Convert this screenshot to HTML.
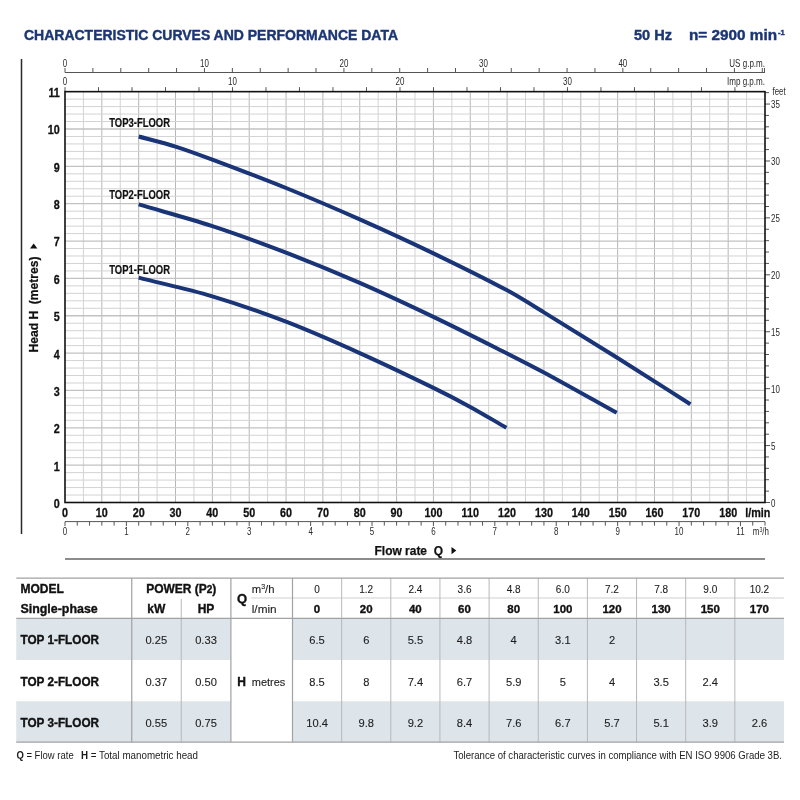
<!DOCTYPE html>
<html lang="en"><head><meta charset="utf-8"><title>Characteristic curves and performance data</title>
<style>
html,body{margin:0;padding:0;background:#fff}
body{width:800px;height:800px;overflow:hidden}
svg{display:block;will-change:transform}
text{font-family:"Liberation Sans",Arial,Helvetica,sans-serif;fill:#1a1a1a;white-space:pre}
.ttl{font-weight:bold;font-size:14px;fill:#1b3676;stroke:#1b3676;stroke-width:.4px}
.sm{font-size:10.6px;fill:#2a2a2a}
.bd{font-weight:bold;font-size:13px;fill:#111;stroke:#111;stroke-width:.3px}
.cl{font-weight:bold;font-size:12.2px;fill:#111;stroke:#111;stroke-width:.2px}
.ax{font-weight:bold;font-size:12.3px;fill:#111;stroke:#111;stroke-width:.25px}
.tb{font-weight:bold;font-size:12px;fill:#111;stroke:#111;stroke-width:.35px}
.tr{font-size:11.3px;fill:#1e1e1e;stroke:#1e1e1e;stroke-width:.12px}
.tn{font-size:11.6px;fill:#1e1e1e;stroke:#1e1e1e;stroke-width:.12px}
.tm{font-size:10.8px;fill:#1e1e1e;stroke:#1e1e1e;stroke-width:.1px}
.ft{font-size:10.3px;fill:#1c1c1c}
</style></head>
<body>
<svg width="800" height="800" viewBox="0 0 800 800">
<rect width="800" height="800" fill="#fff"/>
<text x="24" y="40" class="ttl" textLength="374" lengthAdjust="spacingAndGlyphs">CHARACTERISTIC CURVES AND PERFORMANCE DATA</text>
<text x="634" y="40" class="ttl" textLength="38" lengthAdjust="spacingAndGlyphs">50 Hz</text>
<text x="689" y="40" class="ttl" textLength="88" lengthAdjust="spacingAndGlyphs">n= 2900 min</text>
<text x="778" y="34.6" class="ttl" style="font-size:7.5px">-1</text>
<line x1="21.5" y1="59" x2="21.5" y2="534" stroke="#2a2a2a" stroke-width="1.5"/>
<path d="M83.42 91.65V502.5M120.26 91.65V502.5M157.11 91.65V502.5M193.95 91.65V502.5M230.79 91.65V502.5M267.63 91.65V502.5M304.47 91.65V502.5M341.32 91.65V502.5M378.16 91.65V502.5M415 91.65V502.5M451.84 91.65V502.5M488.68 91.65V502.5M525.53 91.65V502.5M562.37 91.65V502.5M599.21 91.65V502.5M636.05 91.65V502.5M672.89 91.65V502.5M709.74 91.65V502.5M746.58 91.65V502.5" stroke="#d3d3d3" stroke-width="1" fill="none"/>
<path d="M101.84 91.65V502.5M138.68 91.65V502.5M175.53 91.65V502.5M212.37 91.65V502.5M249.21 91.65V502.5M286.05 91.65V502.5M322.89 91.65V502.5M359.74 91.65V502.5M396.58 91.65V502.5M433.42 91.65V502.5M470.26 91.65V502.5M507.11 91.65V502.5M543.95 91.65V502.5M580.79 91.65V502.5M617.63 91.65V502.5M654.47 91.65V502.5M691.32 91.65V502.5M728.16 91.65V502.5" stroke="#b6b6b6" stroke-width="1" fill="none"/>
<path d="M65 495.03H765M65 487.56H765M65 480.09H765M65 472.62H765M65 457.68H765M65 450.21H765M65 442.74H765M65 435.27H765M65 420.33H765M65 412.86H765M65 405.39H765M65 397.92H765M65 382.98H765M65 375.51H765M65 368.04H765M65 360.57H765M65 345.63H765M65 338.16H765M65 330.69H765M65 323.22H765M65 308.28H765M65 300.81H765M65 293.34H765M65 285.87H765M65 270.93H765M65 263.46H765M65 255.99H765M65 248.52H765M65 233.58H765M65 226.11H765M65 218.64H765M65 211.17H765M65 196.23H765M65 188.76H765M65 181.29H765M65 173.82H765M65 158.88H765M65 151.41H765M65 143.94H765M65 136.47H765M65 121.53H765M65 114.06H765M65 106.59H765M65 99.12H765" stroke="#d3d3d3" stroke-width="1" fill="none"/>
<path d="M65 465.15H765M65 427.8H765M65 390.45H765M65 353.1H765M65 315.75H765M65 278.4H765M65 241.05H765M65 203.7H765M65 166.35H765M65 129H765" stroke="#c2c2c2" stroke-width="1.3" fill="none"/>
<path d="M65 72.5H765M65 72.5V68.0M92.89 72.5V68.0M120.79 72.5V68.0M148.68 72.5V68.0M176.57 72.5V68.0M204.46 72.5V68.0M232.36 72.5V68.0M260.25 72.5V68.0M288.14 72.5V68.0M316.03 72.5V68.0M343.93 72.5V68.0M371.82 72.5V68.0M399.71 72.5V68.0M427.6 72.5V68.0M455.5 72.5V68.0M483.39 72.5V68.0M511.28 72.5V68.0M539.17 72.5V68.0M567.07 72.5V68.0M594.96 72.5V68.0M622.85 72.5V68.0M650.74 72.5V68.0M678.64 72.5V68.0M706.53 72.5V68.0M734.42 72.5V68.0M762.31 72.5V68.0M764.5 72.5V68.0" stroke="#555" stroke-width="1" fill="none"/>
<text transform="translate(65,67) scale(.75,1)" class="sm" text-anchor="middle">0</text>
<text transform="translate(204.46,67) scale(.75,1)" class="sm" text-anchor="middle">10</text>
<text transform="translate(343.93,67) scale(.75,1)" class="sm" text-anchor="middle">20</text>
<text transform="translate(483.39,67) scale(.75,1)" class="sm" text-anchor="middle">30</text>
<text transform="translate(622.85,67) scale(.75,1)" class="sm" text-anchor="middle">40</text>
<text x="729.3" y="67" class="sm" textLength="35.7" lengthAdjust="spacingAndGlyphs">US g.p.m.</text>
<path d="M65 91.65V87.15M98.5 91.65V87.15M132 91.65V87.15M165.49 91.65V87.15M198.99 91.65V87.15M232.49 91.65V87.15M265.99 91.65V87.15M299.48 91.65V87.15M332.98 91.65V87.15M366.48 91.65V87.15M399.98 91.65V87.15M433.47 91.65V87.15M466.97 91.65V87.15M500.47 91.65V87.15M533.97 91.65V87.15M567.46 91.65V87.15M600.96 91.65V87.15M634.46 91.65V87.15M667.96 91.65V87.15M701.45 91.65V87.15M734.95 91.65V87.15" stroke="#555" stroke-width="1" fill="none"/>
<text transform="translate(65,84.7) scale(.75,1)" class="sm" text-anchor="middle">0</text>
<text transform="translate(232.49,84.7) scale(.75,1)" class="sm" text-anchor="middle">10</text>
<text transform="translate(399.98,84.7) scale(.75,1)" class="sm" text-anchor="middle">20</text>
<text transform="translate(567.46,84.7) scale(.75,1)" class="sm" text-anchor="middle">30</text>
<text x="727" y="84.7" class="sm" textLength="38" lengthAdjust="spacingAndGlyphs">Imp g.p.m.</text>
<path d="M765 502.5H770M765 491.12H769M765 479.73H769M765 468.35H769M765 456.96H769M765 445.58H770M765 434.19H769M765 422.81H769M765 411.43H769M765 400.04H769M765 388.66H770M765 377.27H769M765 365.89H769M765 354.5H769M765 343.12H769M765 331.74H770M765 320.35H769M765 308.97H769M765 297.58H769M765 286.2H769M765 274.81H770M765 263.43H769M765 252.05H769M765 240.66H769M765 229.28H769M765 217.89H770M765 206.51H769M765 195.12H769M765 183.74H769M765 172.36H769M765 160.97H770M765 149.59H769M765 138.2H769M765 126.82H769M765 115.43H769M765 104.05H770M765 92.67H769" stroke="#555" stroke-width="1" fill="none"/>
<text transform="translate(771,506.8) scale(.75,1)" class="sm">0</text>
<text transform="translate(771,449.88) scale(.75,1)" class="sm">5</text>
<text transform="translate(771,392.96) scale(.75,1)" class="sm">10</text>
<text transform="translate(771,336.04) scale(.75,1)" class="sm">15</text>
<text transform="translate(771,279.11) scale(.75,1)" class="sm">20</text>
<text transform="translate(771,222.19) scale(.75,1)" class="sm">25</text>
<text transform="translate(771,165.27) scale(.75,1)" class="sm">30</text>
<text transform="translate(771,108.35) scale(.75,1)" class="sm">35</text>
<text transform="translate(772.5,95) scale(.75,1)" class="sm">feet</text>
<path d="M65 521.6H765M65 521.6V526.1M77.28 521.6V525.6M89.56 521.6V525.6M101.84 521.6V525.6M114.12 521.6V525.6M126.4 521.6V526.1M138.68 521.6V525.6M150.96 521.6V525.6M163.25 521.6V525.6M175.53 521.6V525.6M187.81 521.6V526.1M200.09 521.6V525.6M212.37 521.6V525.6M224.65 521.6V525.6M236.93 521.6V525.6M249.21 521.6V526.1M261.49 521.6V525.6M273.77 521.6V525.6M286.05 521.6V525.6M298.33 521.6V525.6M310.61 521.6V526.1M322.89 521.6V525.6M335.18 521.6V525.6M347.46 521.6V525.6M359.74 521.6V525.6M372.02 521.6V526.1M384.3 521.6V525.6M396.58 521.6V525.6M408.86 521.6V525.6M421.14 521.6V525.6M433.42 521.6V526.1M445.7 521.6V525.6M457.98 521.6V525.6M470.26 521.6V525.6M482.54 521.6V525.6M494.82 521.6V526.1M507.11 521.6V525.6M519.39 521.6V525.6M531.67 521.6V525.6M543.95 521.6V525.6M556.23 521.6V526.1M568.51 521.6V525.6M580.79 521.6V525.6M593.07 521.6V525.6M605.35 521.6V525.6M617.63 521.6V526.1M629.91 521.6V525.6M642.19 521.6V525.6M654.47 521.6V525.6M666.75 521.6V525.6M679.04 521.6V526.1M691.32 521.6V525.6M703.6 521.6V525.6M715.88 521.6V525.6M728.16 521.6V525.6M740.44 521.6V526.1M752.72 521.6V525.6M765 521.6V525.6" stroke="#555" stroke-width="1" fill="none"/>
<text transform="translate(65,535.2) scale(.75,1)" class="sm" text-anchor="middle">0</text>
<text transform="translate(126.4,535.2) scale(.75,1)" class="sm" text-anchor="middle">1</text>
<text transform="translate(187.81,535.2) scale(.75,1)" class="sm" text-anchor="middle">2</text>
<text transform="translate(249.21,535.2) scale(.75,1)" class="sm" text-anchor="middle">3</text>
<text transform="translate(310.61,535.2) scale(.75,1)" class="sm" text-anchor="middle">4</text>
<text transform="translate(372.02,535.2) scale(.75,1)" class="sm" text-anchor="middle">5</text>
<text transform="translate(433.42,535.2) scale(.75,1)" class="sm" text-anchor="middle">6</text>
<text transform="translate(494.82,535.2) scale(.75,1)" class="sm" text-anchor="middle">7</text>
<text transform="translate(556.23,535.2) scale(.75,1)" class="sm" text-anchor="middle">8</text>
<text transform="translate(617.63,535.2) scale(.75,1)" class="sm" text-anchor="middle">9</text>
<text transform="translate(679.04,535.2) scale(.75,1)" class="sm" text-anchor="middle">10</text>
<text transform="translate(740.44,535.2) scale(.75,1)" class="sm" text-anchor="middle">11</text>
<text transform="translate(769,535.2) scale(.75,1)" class="sm" text-anchor="end">m<tspan dy="-3.2" style="font-size:7px">3</tspan><tspan dy="3.2">/h</tspan></text>
<rect x="65" y="91.65" width="700" height="410.85" fill="none" stroke="#111" stroke-width="1.6"/>
<text transform="translate(59.8,507.9) scale(.83,1)" class="bd" text-anchor="end">0</text>
<text transform="translate(59.8,470.55) scale(.83,1)" class="bd" text-anchor="end">1</text>
<text transform="translate(59.8,433.2) scale(.83,1)" class="bd" text-anchor="end">2</text>
<text transform="translate(59.8,395.85) scale(.83,1)" class="bd" text-anchor="end">3</text>
<text transform="translate(59.8,358.5) scale(.83,1)" class="bd" text-anchor="end">4</text>
<text transform="translate(59.8,321.15) scale(.83,1)" class="bd" text-anchor="end">5</text>
<text transform="translate(59.8,283.8) scale(.83,1)" class="bd" text-anchor="end">6</text>
<text transform="translate(59.8,246.45) scale(.83,1)" class="bd" text-anchor="end">7</text>
<text transform="translate(59.8,209.1) scale(.83,1)" class="bd" text-anchor="end">8</text>
<text transform="translate(59.8,171.75) scale(.83,1)" class="bd" text-anchor="end">9</text>
<text transform="translate(59.8,134.4) scale(.83,1)" class="bd" text-anchor="end">10</text>
<text transform="translate(59.8,97.05) scale(.83,1)" class="bd" text-anchor="end">11</text>
<text transform="translate(65,517) scale(.83,1)" class="bd" text-anchor="middle">0</text>
<text transform="translate(101.84,517) scale(.83,1)" class="bd" text-anchor="middle">10</text>
<text transform="translate(138.68,517) scale(.83,1)" class="bd" text-anchor="middle">20</text>
<text transform="translate(175.53,517) scale(.83,1)" class="bd" text-anchor="middle">30</text>
<text transform="translate(212.37,517) scale(.83,1)" class="bd" text-anchor="middle">40</text>
<text transform="translate(249.21,517) scale(.83,1)" class="bd" text-anchor="middle">50</text>
<text transform="translate(286.05,517) scale(.83,1)" class="bd" text-anchor="middle">60</text>
<text transform="translate(322.89,517) scale(.83,1)" class="bd" text-anchor="middle">70</text>
<text transform="translate(359.74,517) scale(.83,1)" class="bd" text-anchor="middle">80</text>
<text transform="translate(396.58,517) scale(.83,1)" class="bd" text-anchor="middle">90</text>
<text transform="translate(433.42,517) scale(.83,1)" class="bd" text-anchor="middle">100</text>
<text transform="translate(470.26,517) scale(.83,1)" class="bd" text-anchor="middle">110</text>
<text transform="translate(507.11,517) scale(.83,1)" class="bd" text-anchor="middle">120</text>
<text transform="translate(543.95,517) scale(.83,1)" class="bd" text-anchor="middle">130</text>
<text transform="translate(580.79,517) scale(.83,1)" class="bd" text-anchor="middle">140</text>
<text transform="translate(617.63,517) scale(.83,1)" class="bd" text-anchor="middle">150</text>
<text transform="translate(654.47,517) scale(.83,1)" class="bd" text-anchor="middle">160</text>
<text transform="translate(691.32,517) scale(.83,1)" class="bd" text-anchor="middle">170</text>
<text transform="translate(728.16,517) scale(.83,1)" class="bd" text-anchor="middle">180</text>
<text transform="translate(770.3,517) scale(.83,1)" class="bd" text-anchor="end">l/min</text>
<text transform="translate(38.3,352.5) rotate(-90)" class="ax" textLength="96" lengthAdjust="spacingAndGlyphs">Head H  (metres)</text>
<path d="M30 248.6L37.4 248.6L33.7 243.6Z" fill="#111"/>
<text x="374.5" y="554.5" class="ax" textLength="68.5" lengthAdjust="spacingAndGlyphs">Flow rate  Q</text>
<path d="M451.5 547L451.5 554.2L456.3 550.6Z" fill="#111"/>
<line x1="65" y1="559" x2="765" y2="559" stroke="#666" stroke-width="1.5"/>
<path d="M138.68 277.65C163.25 283.88 187.81 288.98 212.37 296.33C236.93 303.67 261.49 312.26 286.05 321.73C310.61 331.19 335.18 342.08 359.74 353.1C384.3 364.12 408.86 375.88 433.42 387.84C445.7 393.81 457.98 400.16 470.26 406.88C482.3 413.48 494.33 420.83 506.37 427.8" stroke="#1a3478" stroke-width="4" fill="none"/>
<path d="M138.68 204.45C163.25 211.67 187.81 218.08 212.37 226.11C236.93 234.14 261.49 243.17 286.05 252.63C310.61 262.09 335.18 272.18 359.74 282.88C384.3 293.59 408.86 305.11 433.42 316.87C457.98 328.64 482.54 341.11 507.11 353.47C519.39 359.66 531.67 365.87 543.95 372.52C568.2 385.66 592.46 399.41 616.71 412.86" stroke="#1a3478" stroke-width="4" fill="none"/>
<path d="M138.68 136.47C150.96 139.83 163.25 142.7 175.53 146.55C187.81 150.41 200.09 155.02 212.37 159.63C236.93 168.84 261.49 178.05 286.05 188.01C310.61 197.97 335.18 208.49 359.74 219.39C384.3 230.28 408.86 241.55 433.42 253.38C457.98 265.2 482.54 277.24 507.11 290.35C519.39 296.91 531.67 304.88 543.95 312.39C568.51 327.41 593.07 342.55 617.63 357.96C641.89 373.17 666.14 388.83 690.39 404.27" stroke="#1a3478" stroke-width="4" fill="none"/>
<text x="109.2" y="126.8" class="cl" textLength="60.8" lengthAdjust="spacingAndGlyphs">TOP3-FLOOR</text>
<text x="109.2" y="199.3" class="cl" textLength="60.8" lengthAdjust="spacingAndGlyphs">TOP2-FLOOR</text>
<text x="109.2" y="274" class="cl" textLength="60.8" lengthAdjust="spacingAndGlyphs">TOP1-FLOOR</text>
<rect x="16.25" y="618.4" width="214.5" height="41.60000000000002" fill="#dde4ea"/>
<rect x="292.5" y="618.4" width="491.5" height="41.60000000000002" fill="#dde4ea"/>
<rect x="16.25" y="701.25" width="214.5" height="40.950000000000045" fill="#dde4ea"/>
<rect x="292.5" y="701.25" width="491.5" height="40.950000000000045" fill="#dde4ea"/>
<path d="M251 598H784" stroke="#cfcfcf" stroke-width="1" fill="none"/>
<path d="M341.65 578V742.2M390.8 578V742.2M439.95 578V742.2M489.1 578V742.2M538.25 578V742.2M587.4 578V742.2M636.55 578V742.2M685.7 578V742.2M734.85 578V742.2" stroke="#b8b8b8" stroke-width="1" fill="none"/>
<path d="M181.25 599V742.2" stroke="#b8b8b8" stroke-width="1" fill="none"/>
<path d="M16.25 578H784M16.25 618.4H784M16.25 742.2H784" stroke="#a2a2a2" stroke-width="1.25" fill="none"/>
<path d="M131.75 578V742.2M230.9 578V742.2M292.5 578V742.2" stroke="#a2a2a2" stroke-width="1.2" fill="none"/>
<text x="20.5" y="593" class="tb">MODEL</text>
<text x="20.5" y="613" class="tb" textLength="77.2" lengthAdjust="spacingAndGlyphs">Single-phase</text>
<text x="181.25" y="593" class="tb" text-anchor="middle">POWER (P<tspan style="font-size:10px">2</tspan>)</text>
<text x="156.25" y="613" class="tb" text-anchor="middle">kW</text>
<text x="206" y="613" class="tb" text-anchor="middle">HP</text>
<text x="237" y="603.2" class="tb" style="font-size:13px">Q</text>
<text x="251.75" y="592.5" class="tr">m<tspan dy="-4" style="font-size:7px">3</tspan><tspan dy="4">/h</tspan></text>
<text x="251.75" y="612.5" class="tr" style="font-size:11.8px">l/min</text>
<text x="237.3" y="685.6" class="tb">H</text>
<text x="251.8" y="685.6" class="tr" textLength="33.5" lengthAdjust="spacingAndGlyphs">metres</text>
<text transform="translate(317.07,592.6) scale(.93,1)" class="tm" text-anchor="middle">0</text>
<text x="317.07" y="612.5" class="tb" style="font-size:11.5px" text-anchor="middle">0</text>
<text transform="translate(317.07,644.2) scale(.96,1)" class="tn" text-anchor="middle">6.5</text>
<text transform="translate(317.07,685.62) scale(.96,1)" class="tn" text-anchor="middle">8.5</text>
<text transform="translate(317.07,726.73) scale(.96,1)" class="tn" text-anchor="middle">10.4</text>
<text transform="translate(366.23,592.6) scale(.93,1)" class="tm" text-anchor="middle">1.2</text>
<text x="366.23" y="612.5" class="tb" style="font-size:11.5px" text-anchor="middle">20</text>
<text transform="translate(366.23,644.2) scale(.96,1)" class="tn" text-anchor="middle">6</text>
<text transform="translate(366.23,685.62) scale(.96,1)" class="tn" text-anchor="middle">8</text>
<text transform="translate(366.23,726.73) scale(.96,1)" class="tn" text-anchor="middle">9.8</text>
<text transform="translate(415.38,592.6) scale(.93,1)" class="tm" text-anchor="middle">2.4</text>
<text x="415.38" y="612.5" class="tb" style="font-size:11.5px" text-anchor="middle">40</text>
<text transform="translate(415.38,644.2) scale(.96,1)" class="tn" text-anchor="middle">5.5</text>
<text transform="translate(415.38,685.62) scale(.96,1)" class="tn" text-anchor="middle">7.4</text>
<text transform="translate(415.38,726.73) scale(.96,1)" class="tn" text-anchor="middle">9.2</text>
<text transform="translate(464.52,592.6) scale(.93,1)" class="tm" text-anchor="middle">3.6</text>
<text x="464.52" y="612.5" class="tb" style="font-size:11.5px" text-anchor="middle">60</text>
<text transform="translate(464.52,644.2) scale(.96,1)" class="tn" text-anchor="middle">4.8</text>
<text transform="translate(464.52,685.62) scale(.96,1)" class="tn" text-anchor="middle">6.7</text>
<text transform="translate(464.52,726.73) scale(.96,1)" class="tn" text-anchor="middle">8.4</text>
<text transform="translate(513.67,592.6) scale(.93,1)" class="tm" text-anchor="middle">4.8</text>
<text x="513.67" y="612.5" class="tb" style="font-size:11.5px" text-anchor="middle">80</text>
<text transform="translate(513.67,644.2) scale(.96,1)" class="tn" text-anchor="middle">4</text>
<text transform="translate(513.67,685.62) scale(.96,1)" class="tn" text-anchor="middle">5.9</text>
<text transform="translate(513.67,726.73) scale(.96,1)" class="tn" text-anchor="middle">7.6</text>
<text transform="translate(562.83,592.6) scale(.93,1)" class="tm" text-anchor="middle">6.0</text>
<text x="562.83" y="612.5" class="tb" style="font-size:11.5px" text-anchor="middle">100</text>
<text transform="translate(562.83,644.2) scale(.96,1)" class="tn" text-anchor="middle">3.1</text>
<text transform="translate(562.83,685.62) scale(.96,1)" class="tn" text-anchor="middle">5</text>
<text transform="translate(562.83,726.73) scale(.96,1)" class="tn" text-anchor="middle">6.7</text>
<text transform="translate(611.97,592.6) scale(.93,1)" class="tm" text-anchor="middle">7.2</text>
<text x="611.97" y="612.5" class="tb" style="font-size:11.5px" text-anchor="middle">120</text>
<text transform="translate(611.97,644.2) scale(.96,1)" class="tn" text-anchor="middle">2</text>
<text transform="translate(611.97,685.62) scale(.96,1)" class="tn" text-anchor="middle">4</text>
<text transform="translate(611.97,726.73) scale(.96,1)" class="tn" text-anchor="middle">5.7</text>
<text transform="translate(661.12,592.6) scale(.93,1)" class="tm" text-anchor="middle">7.8</text>
<text x="661.12" y="612.5" class="tb" style="font-size:11.5px" text-anchor="middle">130</text>
<text transform="translate(661.12,685.62) scale(.96,1)" class="tn" text-anchor="middle">3.5</text>
<text transform="translate(661.12,726.73) scale(.96,1)" class="tn" text-anchor="middle">5.1</text>
<text transform="translate(710.27,592.6) scale(.93,1)" class="tm" text-anchor="middle">9.0</text>
<text x="710.27" y="612.5" class="tb" style="font-size:11.5px" text-anchor="middle">150</text>
<text transform="translate(710.27,685.62) scale(.96,1)" class="tn" text-anchor="middle">2.4</text>
<text transform="translate(710.27,726.73) scale(.96,1)" class="tn" text-anchor="middle">3.9</text>
<text transform="translate(759.42,592.6) scale(.93,1)" class="tm" text-anchor="middle">10.2</text>
<text x="759.42" y="612.5" class="tb" style="font-size:11.5px" text-anchor="middle">170</text>
<text transform="translate(759.42,726.73) scale(.96,1)" class="tn" text-anchor="middle">2.6</text>
<text x="20.5" y="644.2" class="tb" textLength="78.5" lengthAdjust="spacingAndGlyphs">TOP 1-FLOOR</text>
<text transform="translate(156.25,644.2) scale(.96,1)" class="tn" text-anchor="middle">0.25</text>
<text transform="translate(206,644.2) scale(.96,1)" class="tn" text-anchor="middle">0.33</text>
<text x="20.5" y="685.62" class="tb" textLength="78.5" lengthAdjust="spacingAndGlyphs">TOP 2-FLOOR</text>
<text transform="translate(156.25,685.62) scale(.96,1)" class="tn" text-anchor="middle">0.37</text>
<text transform="translate(206,685.62) scale(.96,1)" class="tn" text-anchor="middle">0.50</text>
<text x="20.5" y="726.73" class="tb" textLength="78.5" lengthAdjust="spacingAndGlyphs">TOP 3-FLOOR</text>
<text transform="translate(156.25,726.73) scale(.96,1)" class="tn" text-anchor="middle">0.55</text>
<text transform="translate(206,726.73) scale(.96,1)" class="tn" text-anchor="middle">0.75</text>
<text x="16.4" y="759" class="ft" textLength="57.3" lengthAdjust="spacingAndGlyphs"><tspan font-weight="bold">Q</tspan> = Flow rate</text>
<text x="81" y="759" class="ft" textLength="117" lengthAdjust="spacingAndGlyphs"><tspan font-weight="bold">H</tspan> = Total manometric head</text>
<text x="453.5" y="759" class="ft" textLength="328.5" lengthAdjust="spacingAndGlyphs">Tolerance of characteristic curves in compliance with EN ISO 9906 Grade 3B.</text>
</svg>
</body></html>
